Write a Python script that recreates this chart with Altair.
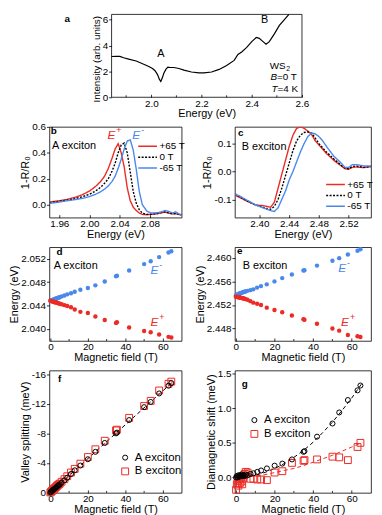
import altair as alt
import pandas as pd

FONT = "Liberation Sans"
RED = "#ec2b25"
BLUE = "#4a88ec"
MINUS_FIX = "replace(datum.label, '\u2212', '-')"

# ---------------- panel a : reflectance spectrum ----------------
A_ENERGY = [1.842, 1.86, 1.875, 1.89, 1.91, 1.94, 1.97, 1.99, 2.005, 2.015,
            2.025, 2.032, 2.038, 2.044, 2.05, 2.058, 2.066, 2.075, 2.09, 2.11,
            2.13, 2.16, 2.19, 2.21, 2.24, 2.27, 2.30, 2.33, 2.345, 2.36,
            2.38, 2.40, 2.418, 2.43, 2.445, 2.457, 2.47, 2.49, 2.51, 2.53,
            2.548]
A_INTENSITY = [3.15, 3.17, 3.16, 3.05, 2.95, 2.8, 2.55, 2.38, 2.22, 2.05,
               1.75, 1.4, 1.22, 1.5, 1.85, 2.15, 2.33, 2.3, 2.3, 2.22,
               2.1, 1.95, 1.88, 1.88, 1.95, 2.15, 2.45, 2.85, 3.3, 3.5,
               3.85, 4.3, 4.62, 4.55, 4.3, 4.1, 4.3, 4.9, 5.55, 6.0,
               6.4]
A_MINOR_TICKS = [1.9, 2.1, 2.3, 2.5]

# ---------------- panel b : A exciton spectra ----------------
B_ENERGY = [1.947, 1.96, 1.97, 1.98, 1.99, 2.000, 2.008, 2.015, 2.020, 2.025,
            2.030, 2.034, 2.038, 2.042, 2.046, 2.050, 2.054, 2.058, 2.062, 2.066,
            2.070, 2.076, 2.082, 2.090, 2.096, 2.100, 2.104, 2.110, 2.114, 2.118,
            2.122]
B_P65 = [0.02, 0.03, 0.04, 0.055, 0.075, 0.105, 0.14, 0.18, 0.22, 0.28,
         0.36, 0.43, 0.47, 0.40, 0.29, 0.13, 0.03, -0.02, -0.045, -0.065,
         -0.075, -0.078, -0.075, -0.07, -0.062, -0.058, -0.065, -0.072, -0.07, -0.075,
         -0.08]
B_0 = [0.015, 0.025, 0.035, 0.045, 0.06, 0.08, 0.105, 0.135, 0.165, 0.2,
       0.26, 0.32, 0.4, 0.46, 0.475, 0.4, 0.25, 0.1, 0.01, -0.04,
       -0.065, -0.075, -0.073, -0.068, -0.06, -0.055, -0.062, -0.07, -0.068, -0.073,
       -0.078]
B_M65 = [0.01, 0.02, 0.03, 0.038, 0.048, 0.062, 0.08, 0.1, 0.12, 0.145,
         0.18, 0.22, 0.28, 0.35, 0.43, 0.49, 0.5, 0.42, 0.27, 0.1,
         0.0, -0.05, -0.065, -0.062, -0.055, -0.045, -0.05, -0.065, -0.055, -0.07,
         -0.08]

# ---------------- panel c : B exciton spectra ----------------
C_ENERGY = [2.367, 2.375, 2.385, 2.395, 2.405, 2.410, 2.415, 2.420, 2.425, 2.430,
            2.435, 2.440, 2.445, 2.450, 2.455, 2.460, 2.465, 2.470, 2.475, 2.480,
            2.485, 2.490, 2.500, 2.510, 2.515, 2.520, 2.525, 2.530, 2.540, 2.550]
C_P65 = [-0.085, -0.095, -0.108, -0.12, -0.122, -0.125, -0.128, -0.11, -0.06, -0.01,
         0.04, 0.09, 0.13, 0.155, 0.16, 0.155, 0.145, 0.133, 0.11, 0.095,
         0.08, 0.065, 0.04, 0.02, 0.01, 0.008, 0.015, 0.016, 0.014, 0.018]
C_0 = [-0.08, -0.093, -0.108, -0.12, -0.128, -0.133, -0.135, -0.125, -0.1, -0.06,
       -0.015, 0.03, 0.075, 0.11, 0.13, 0.14, 0.142, 0.138, 0.12, 0.1,
       0.085, 0.07, 0.045, 0.022, 0.012, 0.01, 0.018, 0.02, 0.015, 0.018]
C_M65 = [-0.08, -0.09, -0.105, -0.12, -0.13, -0.135, -0.14, -0.143, -0.13, -0.1,
         -0.07, -0.03, 0.0, 0.035, 0.07, 0.1, 0.125, 0.138, 0.135, 0.125,
         0.11, 0.09, 0.055, 0.03, 0.015, 0.015, 0.025, 0.025, 0.02, 0.02]

SERIES = ["+65 T", "0 T", "-65 T"]

# ---------------- panels d-g : field dependence ----------------
FIELD = [0, 0.4, 0.8, 1.2, 1.6, 2.0, 2.4, 2.8, 3.2, 3.6,
         4.0, 4.5, 5.0, 6.0, 7.5, 9.0, 11.0, 13.0, 16.0, 20.0,
         24.0, 29.0, 35.0, 35.5, 42.0, 50.0, 53.5, 58.0, 63.0, 64.5]
FIELD_MINOR_TICKS = [10, 30, 50]
D_EMINUS = [2.0448, 2.04485, 2.0449, 2.04495, 2.0450, 2.04505, 2.0451, 2.04515, 2.0452, 2.04525,
            2.0453, 2.04535, 2.0454, 2.04555, 2.0457, 2.0459, 2.0461, 2.04635, 2.0467, 2.0470,
            2.04745, 2.0481, 2.0490, 2.0491, 2.0500, 2.0511, 2.0516, 2.0523, 2.0531, 2.0533]
D_EPLUS = [2.0448, 2.04477, 2.04473, 2.0447, 2.04465, 2.0446, 2.04456, 2.04453, 2.0445, 2.04445,
           2.0444, 2.04435, 2.0443, 2.0442, 2.04405, 2.0439, 2.0437, 2.0433, 2.0429, 2.0427,
           2.0421, 2.0415, 2.0410, 2.0411, 2.0402, 2.0396, 2.0394, 2.0390, 2.0386, 2.0385]
E_EMINUS = [2.4536, 2.4537, 2.45378, 2.45385, 2.4539, 2.45395, 2.454, 2.45405, 2.4541, 2.45415,
            2.4542, 2.45425, 2.4543, 2.4544, 2.45452, 2.45465, 2.45495, 2.4552, 2.4555, 2.4560,
            2.45656, 2.45717, 2.45784, 2.4579, 2.45868, 2.4595, 2.45995, 2.46057, 2.4612, 2.46145]
E_EPLUS = [2.4534, 2.45338, 2.45335, 2.45332, 2.4533, 2.45327, 2.45323, 2.4532, 2.45317, 2.45314,
           2.4531, 2.45305, 2.453, 2.45288, 2.45265, 2.4524, 2.4522, 2.452, 2.45155, 2.45116,
           2.45076, 2.45021, 2.44959, 2.4495, 2.44882, 2.448, 2.44765, 2.44692, 2.4467, 2.44658]
F_A = [0, -0.1, -0.2, -0.3, -0.4, -0.45, -0.55, -0.62, -0.7, -0.8,
       -0.9, -1.0, -1.1, -1.35, -1.65, -2.0, -2.5, -3.0, -3.65, -4.5,
       -5.5, -6.7, -8.0, -8.1, -9.8, -11.55, -12.25, -13.4, -14.45, -14.8]
F_B = [0, -0.1, -0.2, -0.3, -0.4, -0.5, -0.6, -0.7, -0.8, -0.9,
       -1.0, -1.1, -1.2, -1.45, -1.8, -2.2, -2.7, -3.2, -3.9, -4.8,
       -5.85, -7.0, -8.4, -8.5, -10.1, -11.7, -12.4, -13.8, -14.7, -15.0]
G_A = [0.0, 0.02, 0.0, 0.03, 0.01, 0.03, 0.02, 0.04, 0.02, 0.03,
       0.03, 0.02, 0.04, 0.03, 0.05, 0.06, 0.08, 0.1, 0.13, 0.17,
       0.2, 0.26, 0.37, 0.38, 0.59, 0.78, 0.94, 1.12, 1.26, 1.33]
G_B = [-0.18, -0.1, -0.05, -0.12, -0.03, -0.08, 0.0, -0.06, -0.1, -0.02,
       0.03, 0.05, 0.08, 0.07, -0.02, -0.02, -0.03, -0.03, -0.04, 0.07,
       0.09, 0.21, 0.24, 0.25, 0.26, 0.3, 0.29, 0.25, 0.44, 0.5]
FIT_F_X = [0, 65]
FIT_F_Y = [0, -14.9]
FIT_G_X = [0, 5, 10, 15, 20, 25, 30, 35, 40, 45, 50, 55, 60, 65]
FIT_G_A = [0, 0.008, 0.032, 0.072, 0.128, 0.2, 0.29, 0.39, 0.51, 0.65, 0.8, 0.97, 1.15, 1.35]
FIT_G_B = [0.0, 0.01, 0.02, 0.04, 0.07, 0.1, 0.13, 0.17, 0.22, 0.27, 0.32, 0.38, 0.44, 0.5]
EXCITONS = ["A exciton", "B exciton"]

# ---------------- layout sizes ----------------
LW, RW = 134, 138
H_A, H_B, H_D, H_F = 84, 92, 95, 124
A_X0, A_X1 = 63, 256          # panel a frame inside the left column cell

XAX = dict(offset=-3, tickSize=3, labelPadding=1, titlePadding=0)
YAX = dict(tickSize=3, labelPadding=1, titlePadding=1, labelExpr=MINUS_FIX)


def ptxt(s, x, y, size=10, weight="normal", style="normal", color="black",
         align="left", dx=0, dy=0):
    return alt.Chart(alt.Data(values=[{"t": s}])).mark_text(
        font=FONT, fontSize=size, fontWeight=weight, fontStyle=style, color=color,
        align=align, baseline="middle", dx=dx, dy=dy
    ).encode(text="t:N", x=alt.value(x), y=alt.value(y))


def dtxt(s, xv, yv, X, Y, size=12, style="italic", color="black", dx=0, dy=0, align="center"):
    return alt.Chart(alt.Data(values=[{"t": s, "x": xv, "y": yv}])).mark_text(
        font=FONT, fontSize=size, fontStyle=style, color=color, align=align,
        baseline="middle", dx=dx, dy=dy
    ).encode(text="t:N", x=X, y=Y)


def exc_label(sign, xv, yv, X, Y, color):
    return [dtxt("E", xv, yv, X, Y, size=12, color=color),
            dtxt(sign, xv, yv, X, Y, size=9, style="normal", color=color,
                 dx=5, dy=-5, align="left")]


def minor_ticks(vals, X, h):
    return alt.Chart(pd.DataFrame({"x": vals})).mark_rule(
        color="black", strokeWidth=0.8).encode(X, y=alt.value(h - 2), y2=alt.value(h))


def spec_legend(x, y, rowpad):
    return alt.Legend(orient="none", legendX=x, legendY=y, title=None,
                      labelFont=FONT, labelFontSize=10, labelColor="black",
                      symbolType="M-1.9,0H1.9", symbolSize=100, symbolStrokeWidth=1.5,
                      rowPadding=rowpad, labelOffset=6, padding=0)


def exc_legend(x, y):
    return alt.Legend(orient="none", legendX=x, legendY=y, title=None,
                      labelFont=FONT, labelFontSize=11.5, labelColor="black",
                      symbolStrokeWidth=1, rowPadding=1, labelOffset=4, padding=0)


# ---------------- spacer (empty right cell of the first row) ----------------
spacer = alt.Chart(alt.Data(values=[{"v": 0}])).mark_point(opacity=0).encode(
    x=alt.X("v:Q", axis=None), y=alt.Y("v:Q", axis=None)
).properties(width=10, height=H_A, view=alt.ViewBackground(strokeOpacity=0))

# ---------------- panel a ----------------
XA = alt.X("x:Q", scale=alt.Scale(domain=[1.842, 2.6], range=[A_X0, A_X1], nice=False, zero=False),
           axis=alt.Axis(title="Energy (eV)", values=[2.0, 2.2, 2.4, 2.6], format=".1f", **XAX))
YA = alt.Y("y:Q", scale=alt.Scale(domain=[0, 6.4], nice=False, zero=False),
           axis=alt.Axis(title="Intensity (arb. units)", values=[0, 2, 4, 6], offset=-A_X0,
                         tickSize=3, labelPadding=1, titlePadding=1, titleFontSize=10,
                         titleY=45))
line_a = alt.Chart(pd.DataFrame({"x": A_ENERGY, "y": A_INTENSITY})).mark_line(
    color="black", strokeWidth=1.2).encode(XA, YA)
frame_a = alt.Chart(alt.Data(values=[{"v": 0}])).mark_rect(
    fillOpacity=0, stroke="black", strokeWidth=0.8
).encode(x=alt.value(A_X0), x2=alt.value(A_X1), y=alt.value(0), y2=alt.value(H_A))
pa = alt.layer(
    frame_a,
    line_a,
    minor_ticks(A_MINOR_TICKS, XA, H_A),
    ptxt("a", A_X0 - 45, 4.5, weight="bold", align="center"),
    ptxt("A", A_X0 + 50, 40, size=11, align="center"),
    ptxt("B", A_X0 + 155, 5.5, size=11, align="center"),
    ptxt("WS", A_X0 + 176.5, 52.7, align="right"),
    ptxt("2", A_X0 + 177, 55.5, size=7),
    ptxt("B", A_X0 + 161, 63.7, style="italic"),
    ptxt("=0 T", A_X0 + 167.7, 63.7),
    ptxt("T", A_X0 + 162, 75.3, style="italic"),
    ptxt("=4 K", A_X0 + 168.1, 75.3),
).properties(width=LW, height=H_A, view=alt.ViewBackground(strokeOpacity=0))


def spectra_df(energy, series_vals):
    rows = []
    for s, vals in zip(SERIES, series_vals):
        rows += [{"x": e, "y": v, "s": s} for e, v in zip(energy, vals)]
    return pd.DataFrame(rows)


def spectra_line(df, X, Y, legend):
    return alt.Chart(df).mark_line(strokeWidth=1.4, clip=True).encode(
        X, Y,
        color=alt.Color("s:N", scale=alt.Scale(domain=SERIES, range=[RED, "black", BLUE]),
                        legend=legend, sort=SERIES),
        strokeDash=alt.StrokeDash("s:N", scale=alt.Scale(domain=SERIES, range=[[1, 0], [2, 1.5], [1, 0]]),
                                  legend=legend, sort=SERIES),
    )


# ---------------- panel b ----------------
XB = alt.X("x:Q", scale=alt.Scale(domain=[1.947, 2.122], nice=False, zero=False),
           axis=alt.Axis(title="Energy (eV)", values=[1.96, 2.00, 2.04, 2.08], format=".2f", **XAX))
YB = alt.Y("y:Q", scale=alt.Scale(domain=[-0.1, 0.6], nice=False, zero=False),
           axis=alt.Axis(title="1-R/R\u2080", values=[0, 0.2, 0.4, 0.6], **YAX))
pb = alt.layer(
    spectra_line(spectra_df(B_ENERGY, [B_P65, B_0, B_M65]), XB, YB, spec_legend(93.5, 13.7, 0)),
    *exc_label("+", 2.029, 0.535, XB, YB, RED),
    *exc_label("-", 2.062, 0.54, XB, YB, BLUE),
    ptxt("b", 4.3, 4, weight="bold", align="center"),
    ptxt("A exciton", 2.7, 19.3, size=11),
).properties(width=LW, height=H_B)

# ---------------- panel c ----------------
XC = alt.X("x:Q", scale=alt.Scale(domain=[2.367, 2.55], nice=False, zero=False),
           axis=alt.Axis(title="Energy (eV)", values=[2.40, 2.44, 2.48, 2.52], format=".2f", **XAX))
YC = alt.Y("y:Q", scale=alt.Scale(domain=[-0.165, 0.16], nice=False, zero=False),
           axis=alt.Axis(title="1-R/R\u2080", values=[-0.1, 0, 0.1], **YAX))
pc = alt.layer(
    spectra_line(spectra_df(C_ENERGY, [C_P65, C_0, C_M65]), XC, YC, spec_legend(96, 52.5, -1)),
    ptxt("c", 6, 6, weight="bold", align="center"),
    ptxt("B exciton", 7, 20.3, size=11),
).properties(width=RW, height=H_B)


def field_points(minus, plus, X, Y):
    rows = [{"x": f, "y": v, "s": "E-"} for f, v in zip(FIELD, minus)]
    rows += [{"x": f, "y": v, "s": "E+"} for f, v in zip(FIELD, plus)]
    return alt.Chart(pd.DataFrame(rows)).mark_circle(size=20, opacity=1).encode(
        X, Y, color=alt.Color("s:N", scale=alt.Scale(domain=["E-", "E+"], range=[BLUE, RED]), legend=None))


FIELD_SCALE = alt.Scale(domain=[-0.5, 70], nice=False, zero=False)

# ---------------- panel d ----------------
XD = alt.X("x:Q", scale=FIELD_SCALE,
           axis=alt.Axis(title="Magnetic field (T)", values=[0, 20, 40, 60], **XAX))
YD = alt.Y("y:Q", scale=alt.Scale(domain=[2.0379, 2.054], nice=False, zero=False),
           axis=alt.Axis(title="Energy (eV)", values=[2.040, 2.044, 2.048, 2.052], format=".3f", **YAX))
pdd = alt.layer(
    field_points(D_EMINUS, D_EPLUS, XD, YD),
    minor_ticks(FIELD_MINOR_TICKS, XD, H_D),
    *exc_label("-", 55.5, 2.0501, XD, YD, BLUE),
    *exc_label("+", 55.5, 2.0411, XD, YD, RED),
    ptxt("d", 10.3, 5.3, weight="bold", align="center"),
    ptxt("A exciton", 4.3, 19.3, size=11),
).properties(width=LW, height=H_D)

# ---------------- panel e ----------------
XE = alt.X("x:Q", scale=FIELD_SCALE,
           axis=alt.Axis(title="Magnetic field (T)", values=[0, 20, 40, 60], **XAX))
YE = alt.Y("y:Q", scale=alt.Scale(domain=[2.4459, 2.4618], nice=False, zero=False),
           axis=alt.Axis(title="Energy (eV)", values=[2.448, 2.452, 2.456, 2.460], format=".3f", **YAX))
pe = alt.layer(
    field_points(E_EMINUS, E_EPLUS, XE, YE),
    minor_ticks(FIELD_MINOR_TICKS, XE, H_D),
    *exc_label("-", 55, 2.4583, XE, YE, BLUE),
    *exc_label("+", 56.5, 2.4491, XE, YE, RED),
    ptxt("e", 5, 4, weight="bold", align="center"),
    ptxt("B exciton", 8, 18.7, size=11),
).properties(width=RW, height=H_D)


def exc_points(a_vals, b_vals, X, Y, legend):
    rows = [{"x": f, "y": v, "s": "B exciton"} for f, v in zip(FIELD, b_vals)]
    rows += [{"x": f, "y": v, "s": "A exciton"} for f, v in zip(FIELD, a_vals)]
    return alt.Chart(pd.DataFrame(rows)).mark_point(filled=False, strokeWidth=1, opacity=1).encode(
        X, Y,
        color=alt.Color("s:N", scale=alt.Scale(domain=EXCITONS, range=["black", RED]), legend=legend),
        shape=alt.Shape("s:N", scale=alt.Scale(domain=EXCITONS, range=["circle", "square"]), legend=legend),
        size=alt.Size("s:N", scale=alt.Scale(domain=EXCITONS, range=[26, 48]), legend=legend),
    )


# ---------------- panel f ----------------
XF = alt.X("x:Q", scale=FIELD_SCALE,
           axis=alt.Axis(title="Magnetic field (T)", values=[0, 20, 40, 60], **XAX))
YF = alt.Y("y:Q", scale=alt.Scale(domain=[0.05, -16.5], nice=False, zero=False),
           axis=alt.Axis(title="Valley splitting (meV)", values=[0, -4, -8, -12, -16], **YAX))
fit_f = alt.Chart(pd.DataFrame({"x": FIT_F_X, "y": FIT_F_Y})).mark_line(
    color="black", strokeDash=[4, 3], strokeWidth=1).encode(XF, YF)
pf = alt.layer(
    fit_f,
    minor_ticks(FIELD_MINOR_TICKS, XF, H_F),
    exc_points(F_A, F_B, XF, YF, exc_legend(71, 82.5)),
    ptxt("f", 10.3, 8.7, weight="bold", align="center"),
).properties(width=LW, height=H_F)

# ---------------- panel g ----------------
XG = alt.X("x:Q", scale=alt.Scale(domain=[-0.6, 70], nice=False, zero=False),
           axis=alt.Axis(title="Magnetic field (T)", values=[0, 20, 40, 60], **XAX))
YG = alt.Y("y:Q", scale=alt.Scale(domain=[-0.224, 1.547], nice=False, zero=False),
           axis=alt.Axis(title="Diamagnetic shift (meV)", values=[0, 0.5, 1, 1.5], **YAX))
fit_ga = alt.Chart(pd.DataFrame({"x": FIT_G_X, "y": FIT_G_A})).mark_line(
    color="black", strokeDash=[4, 3], strokeWidth=1).encode(XG, YG)
fit_gb = alt.Chart(pd.DataFrame({"x": FIT_G_X, "y": FIT_G_B})).mark_line(
    color=RED, strokeDash=[4, 3], strokeWidth=1).encode(XG, YG)
pg = alt.layer(
    fit_ga, fit_gb,
    minor_ticks(FIELD_MINOR_TICKS, XG, H_F),
    exc_points(G_A, G_B, XG, YG, exc_legend(14, 44.5)),
    ptxt("g", 10, 14, weight="bold", align="center"),
).properties(width=RW, height=H_F)

chart = alt.concat(
    pa, spacer, pb, pc, pdd, pe, pf, pg,
    columns=2,
    spacing={"row": 30, "column": 54},
    bounds="flush",
    align="each",
    padding=0,
).resolve_scale(
    color="independent", strokeDash="independent", shape="independent", size="independent"
).resolve_legend(
    color="independent", strokeDash="independent", shape="independent", size="independent"
).configure_view(
    stroke="black", strokeWidth=0.8
).configure_axis(
    grid=False, domain=False, labelFont=FONT, titleFont=FONT, labelFontSize=10,
    titleFontSize=11, titleFontWeight="normal", labelColor="black", titleColor="black",
    tickColor="black", tickWidth=0.8, labelFlush=False
).configure_legend(labelFont=FONT)

chart.save("out.html", embed_options={"renderer": "svg", "actions": False})
